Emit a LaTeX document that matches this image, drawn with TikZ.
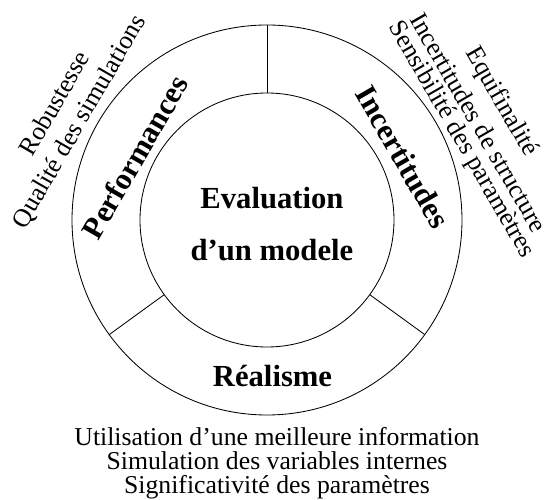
\documentclass[tikz,border=0pt]{standalone}
\usepackage{fontspec}
\setmainfont{Liberation Serif}
\usepackage{tikz}
\usetikzlibrary{positioning}

\begin{document}
\begin{tikzpicture}[
    ring/.style={circle, draw, line width=0.6pt, inner sep=0pt, outer sep=0pt},
    zone/.style={font=\fontsize{21.8}{37}\selectfont\bfseries, align=center, inner sep=0pt},
    note/.style={font=\fontsize{18.3}{17.1}\selectfont, align=center, inner sep=0pt}
]
    \useasboundingbox (-6.675,-7.0) rectangle (7.025,5.5);

    \node[ring, minimum size=9.75cm] (outer) at (0, 0) {};
    \node[ring, minimum size=6.35cm] (inner) at (0, 0) {};
    \foreach \a in {90, 216, -36}
        \draw[line width=0.6pt] (inner.\a) -- (outer.\a);

    \node[zone] (centre) at (0.125, -0.09) {Evaluation\\d’un modele};
    \node[zone, rotate=60] (perf) at (-3.3, 1.575) {Performances};
    \node[zone, rotate=-60] (incert) at (3.4, 1.575) {Incertitudes};
    \node[zone, anchor=base] (real) at (0.1375, -4.175) {Réalisme};

    % criteres autour du cercle
    \node[note, rotate=60] (rob) at (-5.325, 2.925) {Robustesse};
    \node[note, rotate=60] (qual) at (-4.675, 2.45) {Qualité des simulations};
    \node[note, rotate=-60] (equi) at (5.85, 2.95) {Equifinalité};
    \node[note, rotate=-60] (instr) at (5.3, 2.44) {Incertitudes de structure};
    \node[note, rotate=-60] (sens) at (4.85, 2.0) {Sensibilité des paramètres};
    \node[note] (realnotes) at (0.25, -6.07) {Utilisation d’une meilleure information\\Simulation des variables internes\\Significativité des paramètres};
\end{tikzpicture}
\end{document}
